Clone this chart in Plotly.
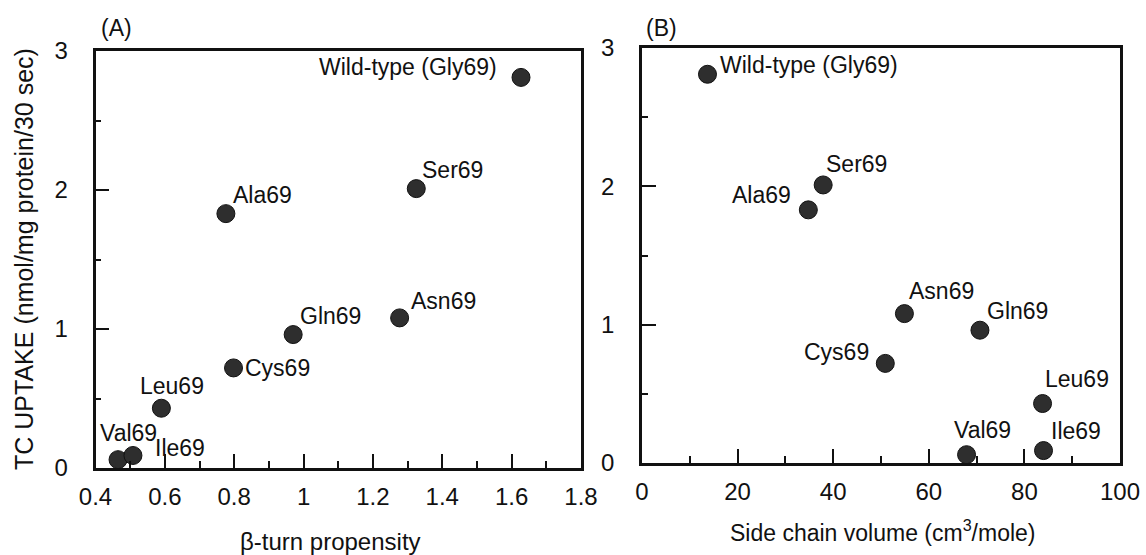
import plotly.graph_objects as go

W, H = 1146, 555

mutants = ["Wild-type (Gly69)", "Ser69", "Ala69", "Asn69", "Gln69", "Cys69", "Leu69", "Val69", "Ile69"]
beta_turn = [1.627, 1.325, 0.776, 1.277, 0.970, 0.798, 0.590, 0.465, 0.508]
side_volume = [13.7, 37.9, 34.8, 54.9, 70.7, 50.9, 83.8, 67.9, 84.0]
uptake = [2.81, 2.01, 1.83, 1.08, 0.96, 0.72, 0.43, 0.06, 0.09]

x_ticks_a = [0.4, 0.6, 0.8, 1.0, 1.2, 1.4, 1.6, 1.8]
x_ticks_b = [0, 20, 40, 60, 80, 100]
y_ticks = [0, 1, 2, 3]

# label placement (anchor, xshift, yshift) in px, per panel
place_a = [("right", -22, 10), ("left", 4, 19), ("left", 5, 19), ("left", 9, 17), ("left", 5, 19),
           ("left", 9, 0), ("left", -23, 22), ("left", -20, 27), ("left", 20, 7)]
place_b = [("left", 11, 9), ("left", 1, 21), ("right", -15, 15), ("left", 3, 23), ("left", 5, 19),
           ("right", -14, 11), ("left", 0, 25), ("left", -15, 25), ("left", 5, 20)]

FONT = "Liberation Sans, Arial, Helvetica, sans-serif"
INK = "#111111"

def px_x(p):
    return p / W

def px_y(p):
    return 1 - p / H

fig = go.Figure()
marker = dict(size=18, color="#2e2e2e", line=dict(color="#111111", width=1))
fig.add_trace(go.Scatter(x=beta_turn, y=uptake, mode="markers", marker=marker,
                         xaxis="x", yaxis="y", cliponaxis=False, showlegend=False))
fig.add_trace(go.Scatter(x=side_volume, y=uptake, mode="markers", marker=marker,
                         xaxis="x2", yaxis="y2", cliponaxis=False, showlegend=False))

annotations = []
for name, xv, yv, (anc, dx, dy) in zip(mutants, beta_turn, uptake, place_a):
    annotations.append(dict(x=xv, y=yv, xref="x", yref="y", text=name, showarrow=False,
                            xanchor=anc, yanchor="middle", xshift=dx, yshift=dy,
                            font=dict(size=23, color=INK, family=FONT)))
for name, xv, yv, (anc, dx, dy) in zip(mutants, side_volume, uptake, place_b):
    annotations.append(dict(x=xv, y=yv, xref="x2", yref="y2", text=name, showarrow=False,
                            xanchor=anc, yanchor="middle", xshift=dx, yshift=dy,
                            font=dict(size=23, color=INK, family=FONT)))

# panel tags and axis titles
annotations += [
    dict(x=px_x(116), y=px_y(28), xref="paper", yref="paper", text="(A)", showarrow=False,
         xanchor="center", yanchor="middle", font=dict(size=23, color=INK, family=FONT)),
    dict(x=px_x(661), y=px_y(28), xref="paper", yref="paper", text="(B)", showarrow=False,
         xanchor="center", yanchor="middle", font=dict(size=23, color=INK, family=FONT)),
    dict(x=px_x(24), y=px_y(259), xref="paper", yref="paper",
         text="TC UPTAKE (nmol/mg protein/30 sec)", textangle=-90, showarrow=False,
         xanchor="center", yanchor="middle", font=dict(size=25, color=INK, family=FONT)),
    dict(x=px_x(330), y=px_y(541), xref="paper", yref="paper", text="β-turn propensity",
         showarrow=False, xanchor="center", yanchor="middle",
         font=dict(size=24, color=INK, family=FONT)),
    dict(x=px_x(883), y=px_y(531), xref="paper", yref="paper",
         text="Side chain volume (cm<sup>3</sup>/mole)",
         showarrow=False, xanchor="center", yanchor="middle",
         font=dict(size=23, color=INK, family=FONT)),
]

common = dict(showline=True, mirror=True, linewidth=2.5, linecolor=INK, showgrid=False,
              zeroline=False, ticks="inside", ticklen=14, tickwidth=2, tickcolor=INK,
              tickfont=dict(size=24, color=INK, family=FONT), automargin=False)

fig.update_layout(
    width=W, height=H,
    margin=dict(l=0, r=0, t=0, b=0),
    paper_bgcolor="white", plot_bgcolor="white",
    showlegend=False,
    xaxis=dict(domain=[px_x(95.5), px_x(581)], range=[0.4, 1.8], tickmode="array",
               tickvals=x_ticks_a, ticktext=["0.4", "0.6", "0.8", "1", "1.2", "1.4", "1.6", "1.8"],
               minor=dict(dtick=0.1, tick0=0.4, ticks="inside", ticklen=7, tickwidth=2, tickcolor=INK),
               anchor="y", ticklabelstandoff=5, **common),
    yaxis=dict(domain=[px_y(468), px_y(51)], range=[0, 3], tickmode="array", tickvals=y_ticks,
               minor=dict(dtick=0.5, tick0=0, ticks="inside", ticklen=6, tickwidth=2, tickcolor=INK),
               anchor="x", ticklabelstandoff=20, **common),
    xaxis2=dict(domain=[px_x(642), px_x(1120)], range=[0, 100], tickmode="array",
                tickvals=x_ticks_b,
                minor=dict(dtick=10, tick0=0, ticks="inside", ticklen=7, tickwidth=2, tickcolor=INK),
                anchor="y2", ticklabelstandoff=5, **common),
    yaxis2=dict(domain=[px_y(463), px_y(48)], range=[0, 3], tickmode="array", tickvals=y_ticks,
                minor=dict(dtick=0.5, tick0=0, ticks="inside", ticklen=6, tickwidth=2, tickcolor=INK),
                anchor="x2", ticklabelstandoff=20, **common),
    annotations=annotations,
)

fig.write_html("out.html", config={"displayModeBar": False},
               post_script="document.body.style.margin='0px';document.body.style.overflow='hidden';")
